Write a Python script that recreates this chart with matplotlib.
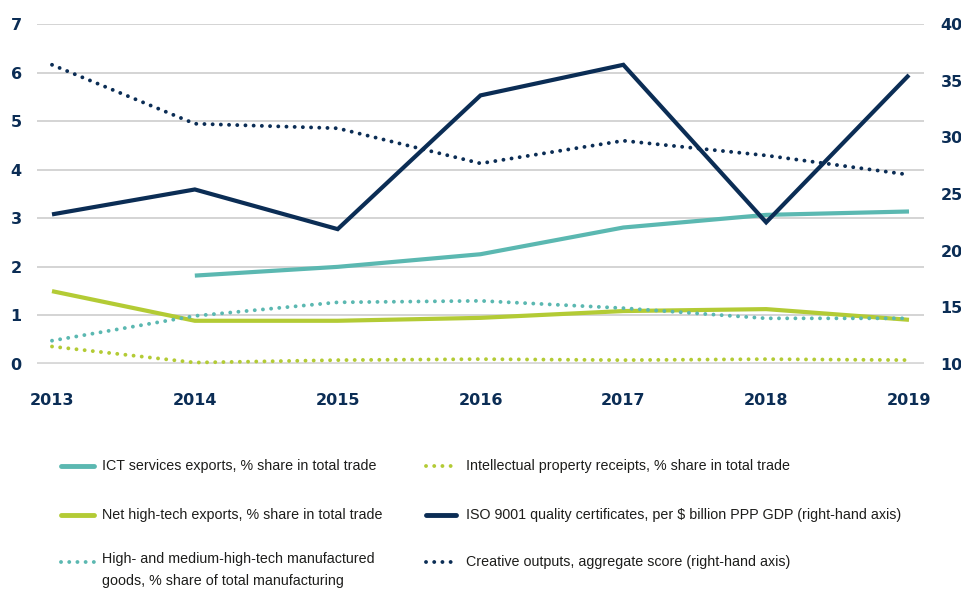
import matplotlib
matplotlib.use('Agg')
import matplotlib.pyplot as plt
from matplotlib.lines import Line2D

NAVY = '#0b2d55'
TEAL = '#5bb8b1'
GREEN = '#b3cb35'
TEXT = '#1d1d1b'

years = [2013, 2014, 2015, 2016, 2017, 2018, 2019]

# left-hand axis series
ict_exports = [None, 1.82, 2.00, 2.26, 2.81, 3.07, 3.14]
net_hightech = [1.50, 0.89, 0.89, 0.95, 1.09, 1.13, 0.91]
hm_hightech = [0.48, 0.99, 1.27, 1.30, 1.15, 0.94, 0.94]
ip_receipts = [0.36, 0.03, 0.08, 0.10, 0.08, 0.10, 0.08]

# right-hand axis series
iso_9001 = [23.2, 25.4, 21.9, 33.7, 36.4, 22.5, 35.5]
creative = [36.4, 31.2, 30.8, 27.7, 29.7, 28.4, 26.7]

left_ticks = [0, 1, 2, 3, 4, 5, 6, 7]
right_ticks = [10, 15, 20, 25, 30, 35, 40]

labels = ['ICT services exports, % share in total trade',
          'Net high-tech exports, % share in total trade',
          'High- and medium-high-tech manufactured\ngoods, % share of total manufacturing',
          'Intellectual property receipts, % share in total trade',
          'ISO 9001 quality certificates, per $ billion PPP GDP (right-hand axis)',
          'Creative outputs, aggregate score (right-hand axis)']

DOT = (0, (0.01, 2.1))

fig = plt.figure(figsize=(9.62, 5.94), dpi=100)
ax = fig.add_axes([37 / 962, 230 / 594, 887 / 962, 340 / 594])
ax2 = ax.twinx()

# gridlines
for t in left_ticks[1:]:
    ax.axhline(t, color='#c9c9c9', lw=1.1, zorder=0)
ax.axhline(0, color='#d9d9d9', lw=3.5, zorder=0)

ict_x = [y for y, v in zip(years, ict_exports) if v is not None]
ict_y = [v for v in ict_exports if v is not None]
ax.plot(ict_x, ict_y, color=TEAL, lw=3, solid_capstyle='butt', clip_on=False)
ax.plot(years, net_hightech, color=GREEN, lw=3, solid_capstyle='butt', clip_on=False)
ax.plot(years, hm_hightech, color=TEAL, lw=2.8, linestyle=DOT, dash_capstyle='round', clip_on=False)
ax.plot(years, ip_receipts, color=GREEN, lw=2.8, linestyle=DOT, dash_capstyle='round', clip_on=False)

ax2.plot(years, iso_9001, color=NAVY, lw=3, solid_joinstyle='miter', solid_capstyle='butt', clip_on=False)
ax2.plot(years, creative, color=NAVY, lw=2.8, linestyle=DOT, dash_capstyle='round', clip_on=False)

ax.set_xlim(2013 - 15 / 142.8, 2019 + 15 / 142.8)
ax.set_ylim(0, 7)
ax2.set_ylim(10, 40)
ax.set_xticks(years)
ax.set_yticks(left_ticks)
ax2.set_yticks(right_ticks)

tick_font = dict(family='DejaVu Sans', weight='bold', size=11.5)
ax.set_xticklabels([str(y) for y in years], color=NAVY, **tick_font)
ax.set_yticklabels([str(t) for t in left_ticks], color=NAVY, **tick_font)
ax2.set_yticklabels([str(t) for t in right_ticks], color=NAVY, **tick_font)
ax.tick_params(axis='x', length=0, pad=21)
ax.tick_params(axis='y', length=0, pad=11)
ax2.tick_params(axis='y', length=0, pad=12)

for a in (ax, ax2):
    for s in a.spines.values():
        s.set_visible(False)

# legend, two columns
styles = [(TEAL, '-'), (GREEN, '-'), (TEAL, DOT), (GREEN, DOT), (NAVY, '-'), (NAVY, DOT)]
rows_y = [466, 515, 562]
cols = [(61, 94, 102), (426, 456, 466)]
for i, (lab, (c, ls)) in enumerate(zip(labels, styles)):
    col = cols[i // 3]
    y = rows_y[i % 3]
    yf = 1 - y / 594
    dotted = ls is DOT
    line = Line2D([col[0] / 962, col[1] / 962], [yf, yf], transform=fig.transFigure,
                  color=c, lw=2.8 if dotted else 3.5, linestyle=ls,
                  dash_capstyle='round', solid_capstyle='round')
    fig.add_artist(line)
    if '\n' in lab:
        fig.text(col[2] / 962, 1 - (y - 10) / 594, lab, ha='left', va='top',
                 fontsize=10.3, color=TEXT, linespacing=1.75, family='Liberation Sans')
    else:
        fig.text(col[2] / 962, yf, lab, ha='left', va='center',
                 fontsize=10.3, color=TEXT, family='Liberation Sans')

fig.savefig('out.png', dpi=100, facecolor='white')
